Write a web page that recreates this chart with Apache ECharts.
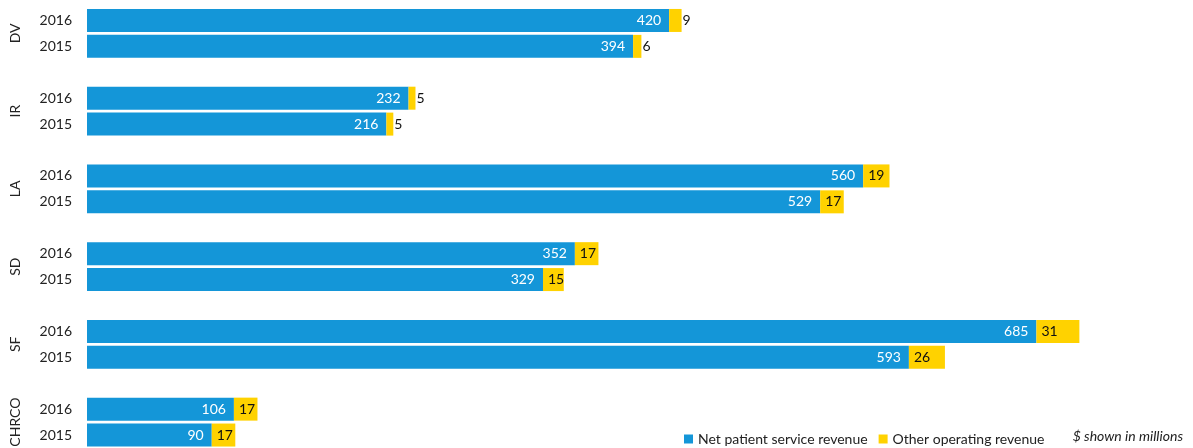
<!DOCTYPE html>
<html><head><meta charset="utf-8">
<script src="https://cdn.jsdelivr.net/npm/echarts@6/dist/echarts.min.js"></script>
<style>html,body{margin:0;padding:0;background:#fff}#c{width:1193px;height:448px}</style>
</head><body><div id="c"></div>
<script>
const groups = ['DV','IR','LA','SD','SF','CHRCO'];
const years = ['2016','2015'];
const net2016 = [420,232,560,352,685,106];
const net2015 = [394,216,529,329,593,90];
const other2016 = [9,5,19,17,31,17];
const other2015 = [6,5,17,15,26,17];
const seriesNames = ['Net patient service revenue','Other operating revenue'];
const note = '$ shown in millions';

const FONT = 'Lato';
const FS = 14;
const cats = [], netData = [], otherData = [], groupIdx = [];
function otherItem(v){
  return v < 10 ? {value:v, label:{position:'right', distance:1}} : v;
}
groups.forEach((g,i)=>{
  cats.push(years[0]); netData.push(net2016[i]); otherData.push(otherItem(other2016[i]));
  cats.push(years[1]); netData.push(net2015[i]); otherData.push(otherItem(other2015[i]));
  groupIdx.push(cats.length-2);
  if(i<groups.length-1){cats.push(''); netData.push('-'); otherData.push('-');}
});

const chart = echarts.init(document.getElementById('c'));
chart.setOption({
  animation:false,
  textStyle:{fontFamily:FONT},
  grid:{left:87, top:7.5, height:442, width:1039.5},
  xAxis:{type:'value', min:0, max:750, show:false},
  yAxis:{type:'category', data:cats, inverse:true,
    axisLine:{show:false}, axisTick:{show:false},
    axisLabel:{color:'#222', fontSize:FS, fontFamily:FONT, margin:15}},
  legend:{left:679, top:427, itemWidth:9, itemHeight:9, itemGap:11, icon:'rect',
    textStyle:{fontSize:FS, color:'#222', fontFamily:FONT}, data:seriesNames},
  series:[
    {name:seriesNames[0], type:'bar', stack:'a', data:netData, barWidth:23,
     itemStyle:{color:'#1496d8'},
     label:{show:true, position:'insideRight', distance:8, color:'#fff', fontSize:FS, fontFamily:FONT}},
    {name:seriesNames[1], type:'bar', stack:'a', data:otherData, barWidth:23,
     itemStyle:{color:'#ffd200'},
     label:{show:true, position:'insideLeft', distance:5, color:'#111', fontSize:FS, fontFamily:FONT}}
  ]
});

const gfx = groups.map((g,i)=>{
  const y1 = chart.convertToPixel({yAxisIndex:0}, groupIdx[i]);
  const y2 = chart.convertToPixel({yAxisIndex:0}, groupIdx[i]+1);
  return {type:'text', x:15, y:(y1+y2)/2, rotation:Math.PI/2,
    style:{text:g, fill:'#222', fontSize:FS, fontFamily:FONT, align:'center', verticalAlign:'middle'}};
});
gfx.push({type:'text', right:10, top:429,
  style:{text:note, fill:'#222', fontSize:FS, fontFamily:FONT, fontStyle:'italic'}});
chart.setOption({graphic:gfx});
</script></body></html>
